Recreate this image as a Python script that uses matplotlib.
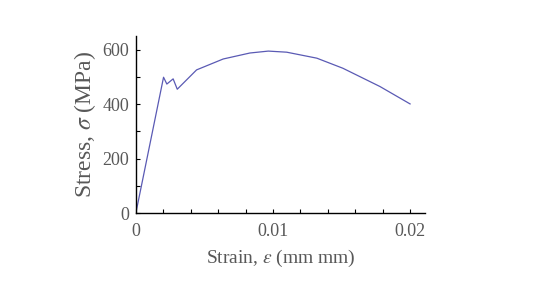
import numpy as np
import matplotlib.pyplot as plt
from matplotlib.ticker import MultipleLocator

# stress-strain curve
strain = [0.0, 0.00202, 0.00226, 0.00272, 0.00302, 0.00443, 0.00637,
          0.00832, 0.00966, 0.0110, 0.0132, 0.0151, 0.0178, 0.0200]
stress = [0, 499, 474, 493, 455, 526, 566, 588, 595, 591, 569, 532, 465, 401]

x_ticks = [0, 0.01, 0.02]
x_labels = ["0", "0.01", "0.02"]
y_ticks = [0, 200, 400, 600]

plt.rcParams['font.family'] = ['Liberation Serif', 'DejaVu Serif']
plt.rcParams['mathtext.fontset'] = 'stix'
txt = '#585858'

fig = plt.figure(figsize=(5.5, 3.01), dpi=100)
ax = fig.add_axes([0.247, 0.292, 0.526, 0.588])
ax.plot(strain, stress, color='#5a5ab4', lw=0.9)

ax.set_xlim(0, 0.0211)
ax.set_ylim(0, 650)
ax.set_xticks(x_ticks)
ax.set_xticklabels(x_labels)
ax.set_yticks(y_ticks)
ax.xaxis.set_minor_locator(MultipleLocator(0.002))
ax.yaxis.set_minor_locator(MultipleLocator(100))
ax.tick_params(which='both', direction='in', length=3, width=0.8,
               labelsize=13, labelcolor=txt)
ax.tick_params(axis='x', pad=7)
ax.tick_params(axis='y', pad=5)

for s in ['top', 'right']:
    ax.spines[s].set_visible(False)
for s in ['left', 'bottom']:
    ax.spines[s].set_linewidth(1.0)

ax.set_xlabel(r"Strain, $\varepsilon$ (mm mm)", fontsize=14, color=txt, labelpad=6)
ax.set_ylabel(r"Stress, $\sigma$ (MPa)", fontsize=17, color=txt, labelpad=3)

fig.savefig("out.png", dpi=100)
